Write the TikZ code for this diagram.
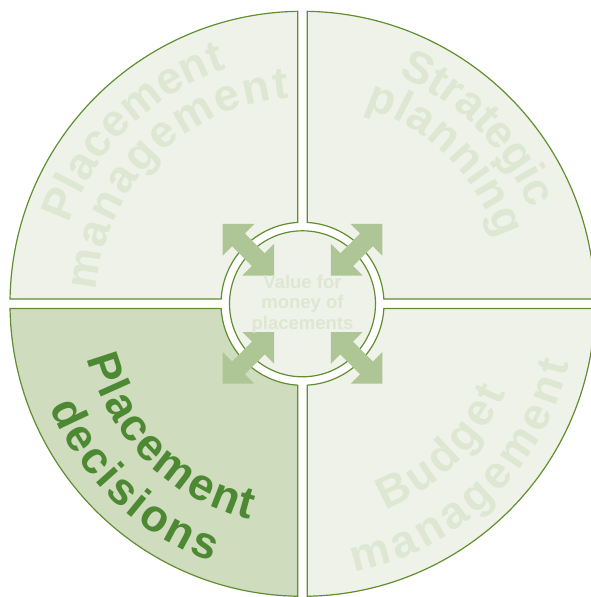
\documentclass[tikz,border=0pt]{standalone}
\usepackage{fontspec}
\setmainfont{Liberation Sans}
\usetikzlibrary{decorations.text}
\definecolor{edge}{RGB}{96,142,48}
\definecolor{lightfill}{RGB}{239,242,232}
\definecolor{darkfill}{RGB}{207,220,190}
\definecolor{arrowfill}{RGB}{174,198,150}
\definecolor{fadedtext}{RGB}{221,231,210}
\definecolor{boldtext}{RGB}{76,137,50}
\newcommand\bigtxt{\bfseries\fontsize{45}{50}\selectfont}
\newcommand\arctext[5]{% start, end, radius, color, text
  \path[decorate, decoration={text along path, text align={fit to path},
    text={|\bigtxt\color{#4}|#5}}]
    (#1:#3) arc[start angle=#1, end angle=#2, radius=#3];}
\newcommand\hubarrow[1]{%
  \fill[arrowfill, rotate=#1] (40,0) -- (62.5,22.5) -- (62.5,9) -- (90.5,9) -- (90.5,22.5)
    -- (113,0) -- (90.5,-22.5) -- (90.5,-9) -- (62.5,-9) -- (62.5,-22.5) -- cycle;}
\begin{document}
\begin{tikzpicture}[x=1pt,y=1pt,
  quad/.style={draw=edge, line width=1.2pt, fill=lightfill}]
\useasboundingbox (0,0) rectangle (590,597);
\coordinate (C) at (302.5,293.2);
\begin{scope}[shift={(C)}]
  % quadrants
  \path[quad] (90.93:292.5) arc[start angle=90.93, end angle=179.07, radius=292.5]
    -- (176.66:81.5) arc[start angle=176.66, end angle=93.34, radius=81.5] -- cycle;
  \path[quad] (0.93:292.5) arc[start angle=0.93, end angle=89.07, radius=292.5]
    -- (86.66:81.5) arc[start angle=86.66, end angle=3.34, radius=81.5] -- cycle;
  \path[quad, fill=darkfill] (180.93:292.5) arc[start angle=180.93, end angle=269.07, radius=292.5]
    -- (266.66:81.5) arc[start angle=266.66, end angle=183.34, radius=81.5] -- cycle;
  \path[quad] (270.93:292.5) arc[start angle=270.93, end angle=359.07, radius=292.5]
    -- (356.66:81.5) arc[start angle=356.66, end angle=273.34, radius=81.5] -- cycle;
  % hub
  \path[quad] (0,0) circle[radius=73];
  % curved labels
  \arctext{161}{107.9}{247}{fadedtext}{Placement}
  \arctext{176.4}{93.65}{206}{fadedtext}{management}
  \arctext{67.3}{23.7}{247}{fadedtext}{Strategic}
  \arctext{72.4}{18.3}{206}{fadedtext}{planning}
  \arctext{-68.25}{-23.6}{222}{fadedtext}{Budget}
  \arctext{-79}{-12.6}{273}{fadedtext}{management}
  \arctext{194.3}{256.4}{222}{boldtext}{Placement}
  \arctext{202.3}{250.6}{273}{boldtext}{decisions}
  % arrows
  \hubarrow{45}\hubarrow{135}\hubarrow{225}\hubarrow{315}
\end{scope}
\node[text=fadedtext, font=\bfseries\fontsize{18.5}{20.5}\selectfont, align=center]
  (hubtext) at (C) {Value for\\money of\\placements};
\end{tikzpicture}
\end{document}
